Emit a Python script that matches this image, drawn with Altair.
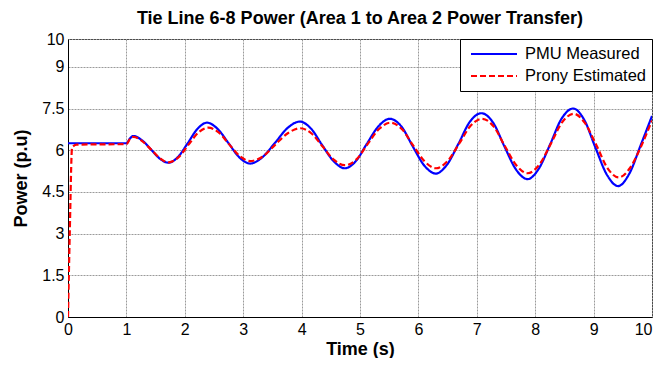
import altair as alt
import pandas as pd

series_names = ["PMU Measured", "Prony Estimated"]
series_colors = ["#0000ff", "#ff0000"]

pmu_time = [0.0, 1.0, 1.06, 1.12, 1.27, 1.42, 1.57, 1.72,
            1.88, 2.05, 2.21, 2.38, 2.56, 2.75, 2.93, 3.12,
            3.33, 3.55, 3.76, 3.97, 4.16, 4.35, 4.55, 4.74,
            4.93, 5.12, 5.32, 5.51, 5.71, 5.90, 6.10, 6.30,
            6.49, 6.69, 6.88, 7.08, 7.28, 7.47, 7.67, 7.87,
            8.06, 8.26, 8.45, 8.65, 8.84, 9.03, 9.23, 9.42,
            9.61, 9.81, 10.0]
pmu_power = [6.25, 6.25, 6.42, 6.51, 6.35, 6.03, 5.70, 5.55,
             5.75, 6.25, 6.75, 6.99, 6.77, 6.25, 5.75, 5.52,
             5.75, 6.28, 6.80, 7.03, 6.78, 6.19, 5.60, 5.35,
             5.61, 6.24, 6.87, 7.13, 6.85, 6.15, 5.45, 5.16,
             5.48, 6.25, 7.02, 7.33, 6.99, 6.15, 5.31, 4.96,
             5.33, 6.23, 7.13, 7.50, 7.09, 6.10, 5.11, 4.71,
             5.15, 6.20, 7.23]

prony_time = [0.0, 0.03, 0.07, 0.15, 1.0, 1.06, 1.12, 1.27, 1.42, 1.57, 1.72,
              1.89, 2.06, 2.23, 2.40, 2.58, 2.76, 2.94, 3.12,
              3.34, 3.55, 3.77, 3.98, 4.17, 4.36, 4.55, 4.74,
              4.94, 5.13, 5.33, 5.52, 5.72, 5.91, 6.11, 6.30,
              6.50, 6.70, 6.89, 7.09, 7.29, 7.48, 7.68, 7.87,
              8.07, 8.27, 8.46, 8.66, 8.85, 9.05, 9.24, 9.43,
              9.62, 9.82, 10.0]
prony_power = [0.0, 3.0, 6.10, 6.20, 6.22, 6.40, 6.48, 6.33, 6.03, 5.72, 5.56,
               5.74, 6.19, 6.63, 6.81, 6.64, 6.21, 5.79, 5.61,
               5.78, 6.20, 6.62, 6.79, 6.60, 6.13, 5.66, 5.46,
               5.67, 6.22, 6.77, 6.99, 6.75, 6.17, 5.59, 5.35,
               5.61, 6.24, 6.87, 7.13, 6.85, 6.15, 5.45, 5.17,
               5.48, 6.24, 7.00, 7.31, 6.98, 6.17, 5.35, 5.02,
               5.35, 6.17, 7.07]

x_ticks = [0, 1, 2, 3, 4, 5, 6, 7, 8, 9, 10]
y_ticks = [0, 1.5, 3, 4.5, 6, 7.5, 9, 10]

df = pd.concat([
    pd.DataFrame({"t": pmu_time, "p": pmu_power, "s": series_names[0]}),
    pd.DataFrame({"t": prony_time, "p": prony_power, "s": series_names[1]}),
], ignore_index=True)

FONT = "Liberation Sans"

legend = alt.Legend(
    title=None, orient="top-right", offset=0,
    strokeColor="black", fillColor="white", padding=5, cornerRadius=0,
    symbolType="stroke", symbolSize=2116, symbolStrokeWidth=2, symbolOffset=5,
    clipHeight=20, rowPadding=2,
    labelFontSize=16.5, labelFont=FONT, labelColor="black", labelOffset=7,
    labelLimit=300,
)

chart = alt.Chart(df).mark_line(interpolate="monotone", strokeWidth=2.2, clip=True).encode(
    x=alt.X("t:Q", scale=alt.Scale(domain=[0, 10], nice=False, zero=False),
            axis=alt.Axis(values=x_ticks, title="Time (s)", labelExpr="'' + datum.value",
                          labelAlign=alt.ExprRef(expr="datum.value == 10 ? 'right' : 'center'"),
                          titlePadding=3)),
    y=alt.Y("p:Q", scale=alt.Scale(domain=[0, 10], nice=False, zero=False),
            axis=alt.Axis(values=y_ticks, title="Power (p.u)", labelExpr="'' + datum.value",
                          titlePadding=11)),
    color=alt.Color("s:N", scale=alt.Scale(domain=series_names, range=series_colors), legend=legend),
    strokeDash=alt.StrokeDash("s:N", scale=alt.Scale(domain=series_names, range=[[1, 0], [6, 3]]),
                              legend=legend),
).properties(
    width=584, height=278,
    title=alt.TitleParams("Tie Line 6-8 Power (Area 1 to Area 2 Power Transfer)",
                          fontSize=18, fontWeight="bold", font=FONT, color="black",
                          anchor="middle", frame="group", offset=3),
    autosize=alt.AutoSizeParams(type="none"),
    padding={"left": 60, "top": 31, "right": 1, "bottom": 41},
).configure_view(
    stroke="black", strokeWidth=1
).configure_axis(
    labelFont=FONT, labelFontSize=16, labelColor="black", labelPadding=4,
    titleFont=FONT, titleFontSize=18, titleFontWeight="bold", titleColor="black",
    domainColor="black", domainWidth=1, ticks=False,
    grid=True, gridColor="#9a9a9a", gridDash=[2, 1], gridWidth=1,
)

chart.save("out.html", embed_options={"renderer": "svg", "actions": False})
